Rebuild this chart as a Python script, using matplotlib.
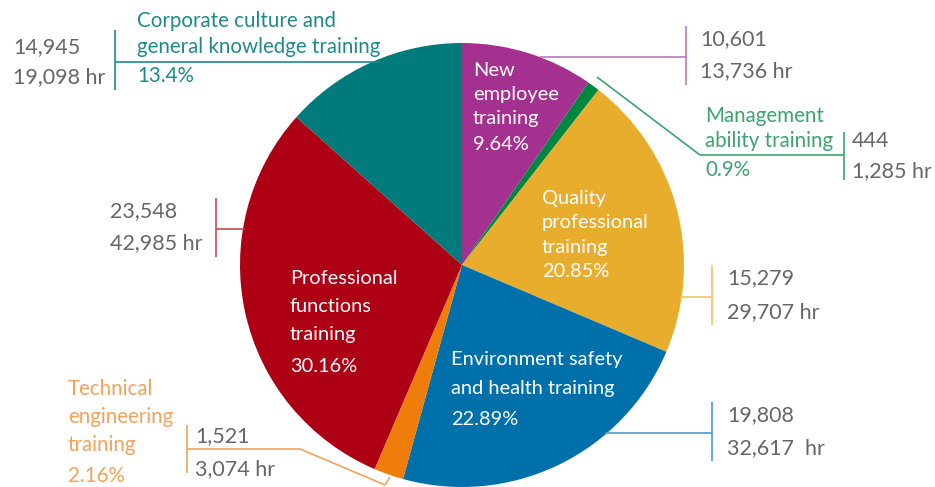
import matplotlib
matplotlib.use("Agg")
import matplotlib.pyplot as plt

# Training categories, clockwise from 12 o'clock
categories = [
    "New employee training",
    "Management ability training",
    "Quality professional training",
    "Environment safety and health training",
    "Technical engineering training",
    "Professional functions training",
    "Corporate culture and general knowledge training",
]
shares = [9.64, 0.9, 20.85, 22.89, 2.16, 30.16, 13.4]
participants = ["10,601", "444", "15,279", "19,808", "1,521", "23,548", "14,945"]
hours = ["13,736 hr", "1,285 hr", "29,707 hr", "32,617  hr", "3,074 hr", "42,985 hr", "19,098 hr"]
colors = ["#A4318F", "#00873F", "#E8AD2C", "#0070AB", "#EE7D0B", "#AD0015", "#017A7C"]

W, H = 935, 487
fig = plt.figure(figsize=(W / 100, H / 100), dpi=100)
ax = fig.add_axes([0, 0, 1, 1])

FONT = "Lato"
GRAY = "#666666"
CX, CY, R = 462, 265, 222


def Y(y):
    return H - y


ax.pie(shares, colors=colors, startangle=90, counterclock=False,
       center=(CX, Y(CY)), radius=R, frame=True,
       wedgeprops=dict(linewidth=0))
ax.set_xlim(0, W)
ax.set_ylim(0, H)
ax.set_aspect("equal")
ax.axis("off")


def txt(x, y, s, color, size=14):
    ax.text(x, Y(y), s, color=color, fontsize=size, family=FONT,
            ha="left", va="baseline")


def line(xs, ys, color):
    ax.plot(xs, [Y(v) for v in ys], color=color, lw=1.2, solid_capstyle="butt")


IN = 14.4
NUM = 15.5
LAB = 14.8

# Labels inside the wedges
for x, ys, lines, s in [
    (473, [76, 100, 124, 150], ["New", "employee", "training"], shares[0]),
    (542, [204, 228, 253, 277], ["Quality", "professional", "training"], shares[2]),
    (451, [365, 394, 425], ["Environment safety", "and health training"], shares[3]),
    (290, [284, 312, 340, 372], ["Professional", "functions", "training"], shares[5]),
]:
    for yy, t in zip(ys, lines):
        txt(x, yy, t, "white", IN)
    txt(x, ys[-1], f"{s:g}%", "white", IN)

# New employee
line([540, 686], [57, 57], "#C275B3")
line([686, 686], [26, 85], "#C275B3")
txt(700, 45, participants[0], GRAY, NUM)
txt(700, 77, hours[0], GRAY, NUM)

# Management ability
G = "#3DA36F"
line([597, 700, 844], [77, 155, 155], G)
line([844, 844], [132, 180], G)
txt(705, 122, "Management", G, LAB)
txt(705, 147, "ability training", G, LAB)
txt(705, 176, f"{shares[1]:g}%", G, LAB)
txt(852, 147, participants[1], GRAY, NUM)
txt(852, 177, hours[1], GRAY, NUM)

# Quality professional
Yl = "#F2C467"
line([680, 712], [297, 297], Yl)
line([712, 712], [265, 325], Yl)
txt(727, 284, participants[2], GRAY, NUM)
txt(727, 318, hours[2], GRAY, NUM)

# Environment safety and health
B = "#4F9ACB"
line([605, 712], [433, 433], B)
line([712, 712], [402, 461], B)
txt(727, 421, participants[3], GRAY, NUM)
txt(727, 454, hours[3], GRAY, NUM)

# Technical engineering
O = "#F2A35A"
line([187, 187], [425, 473], O)
line([187, 300, 385, 390], [449, 449, 485, 477], O)
txt(68, 395, "Technical", O, LAB)
txt(68, 423, "engineering", O, LAB)
txt(68, 451, "training", O, LAB)
txt(68, 482, f"{shares[4]:g}%", O, LAB)
txt(195, 442, participants[4], GRAY, NUM)
txt(195, 475, hours[4], GRAY, NUM)

# Professional functions
Rd = "#C9485A"
line([216, 216], [198, 257], Rd)
line([216, 245], [229, 229], Rd)
txt(110, 217, participants[5], GRAY, NUM)
txt(110, 249, hours[5], GRAY, NUM)

# Corporate culture and general knowledge
T = "#1E8A8A"
line([115, 115], [30, 90], T)
line([115, 380], [62, 62], T)
txt(137, 27, "Corporate culture and", T, LAB)
txt(137, 53, "general knowledge training", T, LAB)
txt(137, 82, f"{shares[6]:g}%", T, LAB)
txt(13, 53, participants[6], GRAY, NUM)
txt(13, 83, hours[6], GRAY, NUM)

fig.savefig("out.png", dpi=100, facecolor="white")
